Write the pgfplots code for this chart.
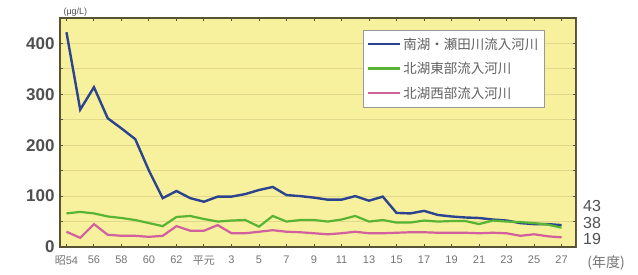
\documentclass[border=0pt]{standalone}
\usepackage{pgfplots}
\pgfplotsset{compat=1.18}
\usepackage{fontspec}
\setmainfont{Liberation Sans}
\newfontfamily\jp{Noto Sans CJK JP}
\definecolor{bg}{HTML}{F7F09C}
\definecolor{gridc}{HTML}{E2D88C}
\definecolor{frame}{HTML}{5A5234}
\definecolor{cblue}{HTML}{2C4490}
\definecolor{cgreen}{HTML}{58B434}
\definecolor{cpink}{HTML}{D0609E}
\definecolor{txt}{HTML}{505050}
\pgfplotstableread{
year blue green pink
1979 422 66 30
1980 270 69 18
1981 314 66 45
1982 253 60 24
1983 233 57 22
1984 212 53 22
1985 150 47 20
1986 96 41 22
1987 110 59 41
1988 96 61 32
1989 89 55 32
1990 99 50 43
1991 99 52 27
1992 104 53 27
1993 112 40 30
1994 118 61 33
1995 102 50 30
1996 100 53 29
1997 97 53 27
1998 93 50 25
1999 93 54 27
2000 100 61 30
2001 91 50 27
2002 99 53 27
2003 67 48 28
2004 66 48 29
2005 71 52 29
2006 63 50 28
2007 60 51 28
2008 58 51 28
2009 57 45 27
2010 54 52 28
2011 52 50 27
2012 47 49 22
2013 45 47 25
2014 45 44 21
2015 43 38 19
}\data
\begin{document}
\begin{tikzpicture}
\path[use as bounding box] (0pt,0pt) rectangle (638pt,274pt);
\begin{axis}[
  at={(60pt,27pt)}, anchor=south west,
  scale only axis, width=516pt, height=229pt,
  xmin=1978.53, xmax=2016.05, ymin=0, ymax=450,
  axis background/.style={fill=bg},
  axis line style={draw=frame, line width=1.6pt},
  xtick={1979,1981,...,2015},
  xticklabels={{\jp 昭}54,56,58,60,62,{\jp 平元},3,5,7,9,11,13,15,17,19,21,23,25,27},
  minor x tick num=1,
  ytick={0,100,...,400},
  minor ytick={50,150,...,450},
  ymajorgrids, yminorgrids,
  major grid style={draw=gridc, line width=0.8pt},
  minor grid style={draw=gridc, line width=0.8pt},
  tick style={draw=frame, line width=1pt},
  major tick length=3pt, minor tick length=3pt,
  tick align=inside,
  /pgf/number format/assume math mode=true,
  yticklabel style={font=\fontsize{17}{17}\selectfont\bfseries, text=txt, xshift=-2pt},
  xticklabel style={font=\fontsize{11}{11}\selectfont, text=txt!80, yshift=-5pt},
  legend style={at={(0.587,0.948)}, anchor=north west, draw=gray!80, fill=white,
    font=\jp\fontsize{13.5}{14}\selectfont, text=txt!90, row sep=7.5pt, inner ysep=6pt, inner xsep=4pt},
  legend cell align=left,
  legend image code/.code={\draw[#1, line width=2.3pt] (0pt,0.3pt) -- (32pt,0.3pt);},
]
\addplot[cblue, line width=2.4pt] table[x=year, y=blue] {\data};
\addlegendentry{南湖・瀬田川流入河川}
\addplot[cgreen, line width=2.2pt] table[x=year, y=green] {\data};
\addlegendentry{北湖東部流入河川}
\addplot[cpink, line width=2.2pt] table[x=year, y=pink] {\data};
\addlegendentry{北湖西部流入河川}
\draw[gray!70, line width=1pt] (rel axis cs:1,0) -- (rel axis cs:1,1);
\end{axis}
\node[anchor=west, font=\fontsize{9}{9}\selectfont, text=txt] at (60pt,262pt) {(μg/L)};
\node[font=\fontsize{16}{16}\selectfont, text=txt] at (592pt,68pt) {43};
\node[font=\fontsize{16}{16}\selectfont, text=txt] at (592pt,51.5pt) {38};
\node[font=\fontsize{16}{16}\selectfont, text=txt] at (592pt,35pt) {19};
\node[font=\jp\fontsize{14}{14}\selectfont, text=txt!80] at (606pt,11pt) {(年度)};
\end{tikzpicture}
\end{document}
